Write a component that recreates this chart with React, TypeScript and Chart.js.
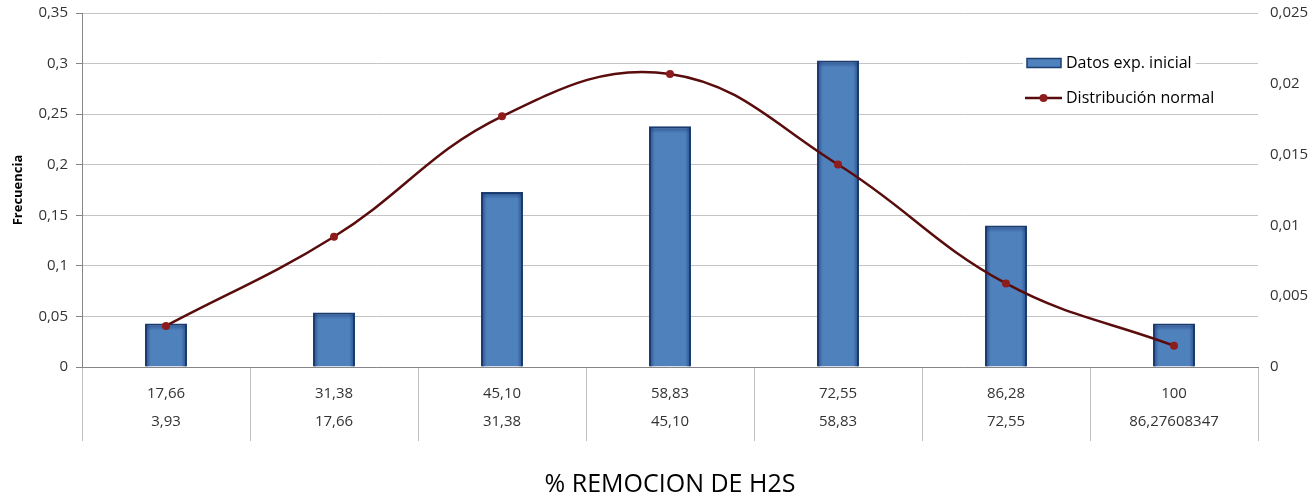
import React, { useEffect, useRef } from 'react';
import { Chart, registerables } from 'chart.js';

Chart.register(...registerables);

// ---- Data ----
const upperLimits = ['17,66', '31,38', '45,10', '58,83', '72,55', '86,28', '100'];
const lowerLimits = ['3,93', '17,66', '31,38', '45,10', '58,83', '72,55', '86,27608347'];
const frequency = [0.043, 0.054, 0.173, 0.238, 0.303, 0.140, 0.043];
const normalDist = [0.0029, 0.0092, 0.0177, 0.0207, 0.0143, 0.0059, 0.0015];
const seriesNames = ['Datos exp. inicial', 'Distribución normal'];
const leftAxisTitle = 'Frecuencia';
const bottomAxisTitle = '% REMOCION DE H2S';

const FONT = "'Open Sans', 'DejaVu Sans', sans-serif";
const BAR_FILL = '#4f81bd';
const BAR_BORDER = '#1d3f70';
const LINE_COLOR = '#5a0c0c';
const POINT_COLOR = '#8e1c1c';

const fmt = (v: number) => Number(Number(v).toFixed(4)).toString().replace('.', ',');

// Inner shading of bars (drawn on the library's bar elements)
const barShade = {
  id: 'barShade',
  afterDatasetDraw(chart: any, args: any) {
    const meta = args.meta;
    if (meta.type !== 'bar') return;
    const ctx = chart.ctx;
    ctx.save();
    meta.data.forEach((el: any) => {
      const { x, y, base, width } = el.getProps(['x', 'y', 'base', 'width'], true);
      const l = x - width / 2 + 1;
      const r = x + width / 2 - 1;
      const t = Math.min(y, base) + 1;
      const b = Math.max(y, base);
      const g = ctx.createLinearGradient(l, 0, r, 0);
      g.addColorStop(0, 'rgba(20,50,110,0.55)');
      g.addColorStop(0.12, 'rgba(20,50,110,0)');
      g.addColorStop(0.88, 'rgba(20,50,110,0)');
      g.addColorStop(1, 'rgba(20,50,110,0.55)');
      ctx.fillStyle = g;
      ctx.fillRect(l, t, r - l, b - t);
      const gv = ctx.createLinearGradient(0, t, 0, t + 6);
      gv.addColorStop(0, 'rgba(20,50,110,0.5)');
      gv.addColorStop(1, 'rgba(20,50,110,0)');
      ctx.fillStyle = gv;
      ctx.fillRect(l, t, r - l, Math.min(6, b - t));
    });
    ctx.restore();
  },
};

const insideLegend = {
  id: 'insideLegend',
  afterDatasetsDraw(chart: any) {
    const { ctx, chartArea } = chart;
    const x0 = chartArea.right - 233;
    const rows = [chartArea.top + 50, chartArea.top + 85];
    ctx.save();
    ctx.font = `16px ${FONT}`;
    ctx.textBaseline = 'middle';
    rows.forEach((y: number, i: number) => {
      const tw = ctx.measureText(seriesNames[i]).width;
      ctx.fillStyle = '#ffffff';
      ctx.fillRect(x0 - 2, y - 10, 41 + tw + 6, 20);
      if (i === 0) {
        ctx.fillStyle = BAR_FILL;
        ctx.fillRect(x0 + 2, y - 4.5, 34, 9);
        ctx.strokeStyle = BAR_BORDER;
        ctx.lineWidth = 1.5;
        ctx.strokeRect(x0 + 2, y - 4.5, 34, 9);
      } else {
        ctx.strokeStyle = LINE_COLOR;
        ctx.lineWidth = 2.5;
        ctx.beginPath();
        ctx.moveTo(x0, y);
        ctx.lineTo(x0 + 37, y);
        ctx.stroke();
        ctx.fillStyle = POINT_COLOR;
        ctx.beginPath();
        ctx.arc(x0 + 18.5, y, 4, 0, Math.PI * 2);
        ctx.fill();
      }
      ctx.fillStyle = '#000000';
      ctx.fillText(seriesNames[i], x0 + 41, y);
    });
    ctx.restore();
  },
};

export default function App() {
  const canvasRef = useRef<HTMLCanvasElement | null>(null);

  useEffect(() => {
    document.body.style.margin = '0';
    const canvas = canvasRef.current;
    if (!canvas) return;
    Chart.defaults.font.family = FONT;

    const chart = new Chart(canvas, {
      type: 'bar',
      data: {
        labels: upperLimits.map((u, i) => [u, lowerLimits[i]]),
        datasets: [
          {
            type: 'line',
            label: seriesNames[1],
            data: normalDist,
            yAxisID: 'yRight',
            borderColor: LINE_COLOR,
            borderWidth: 2.5,
            tension: 0.4,
            pointRadius: 4,
            pointBackgroundColor: POINT_COLOR,
            pointBorderColor: POINT_COLOR,
            pointBorderWidth: 0,
            order: 0,
          } as any,
          {
            type: 'bar',
            label: seriesNames[0],
            data: frequency,
            yAxisID: 'y',
            backgroundColor: BAR_FILL,
            borderColor: BAR_BORDER,
            borderWidth: 2,
            categoryPercentage: 1,
            barPercentage: 0.25,
            order: 1,
          } as any,
        ],
      },
      options: {
        responsive: true,
        maintainAspectRatio: false,
        animation: false,
        layout: { padding: { top: 13, left: 0, right: 0, bottom: 0 } },
        plugins: {
          legend: { display: false },
          tooltip: { enabled: false },
        },
        scales: {
          x: {
            type: 'category',
            offset: true,
            grid: {
              offset: true,
              drawOnChartArea: false,
              tickLength: 74,
              color: '#bfbfbf',
              tickColor: '#bfbfbf',
            },
            border: { color: '#868686', width: 1 },
            ticks: {
              padding: -61,
              maxRotation: 0,
              autoSkip: false,
              color: '#333333',
              font: { size: 15, lineHeight: '28px' } as any,
            },
            title: {
              display: true,
              text: bottomAxisTitle,
              color: '#000000',
              font: { size: 25 },
              padding: { top: 0, bottom: 2 },
            },
            afterFit: (s: any) => {
              s.height = 135;
            },
          } as any,
          y: {
            position: 'left',
            min: 0,
            max: 0.35,
            ticks: {
              stepSize: 0.05,
              callback: (v: any) => fmt(v),
              color: '#333333',
              font: { size: 15 },
              padding: 8,
            },
            grid: { color: '#c4c4c4', tickLength: 6, tickColor: '#868686' },
            border: { color: '#868686', width: 1 },
            title: {
              display: true,
              text: leftAxisTitle,
              color: '#000000',
              font: { size: 13, weight: 'bold' },
              padding: { top: 10, bottom: 0 },
            },
            afterFit: (s: any) => {
              s.width = 82;
              s.paddingTop = 0;
              s.paddingBottom = 0;
            },
          } as any,
          yRight: {
            position: 'right',
            min: 0,
            max: 0.025,
            ticks: {
              stepSize: 0.005,
              callback: (v: any) => fmt(v),
              color: '#333333',
              font: { size: 15 },
              padding: 12,
            },
            grid: { display: false, drawOnChartArea: false, drawTicks: false },
            border: { display: false },
            afterFit: (s: any) => {
              s.width = 56;
              s.paddingTop = 0;
              s.paddingBottom = 0;
            },
          } as any,
        },
      },
      plugins: [barShade, insideLegend],
    });

    return () => chart.destroy();
  }, []);

  return (
    <div style={{ width: '1314px', height: '502px', position: 'relative', background: '#ffffff' }}>
      <canvas ref={canvasRef} />
    </div>
  );
}
